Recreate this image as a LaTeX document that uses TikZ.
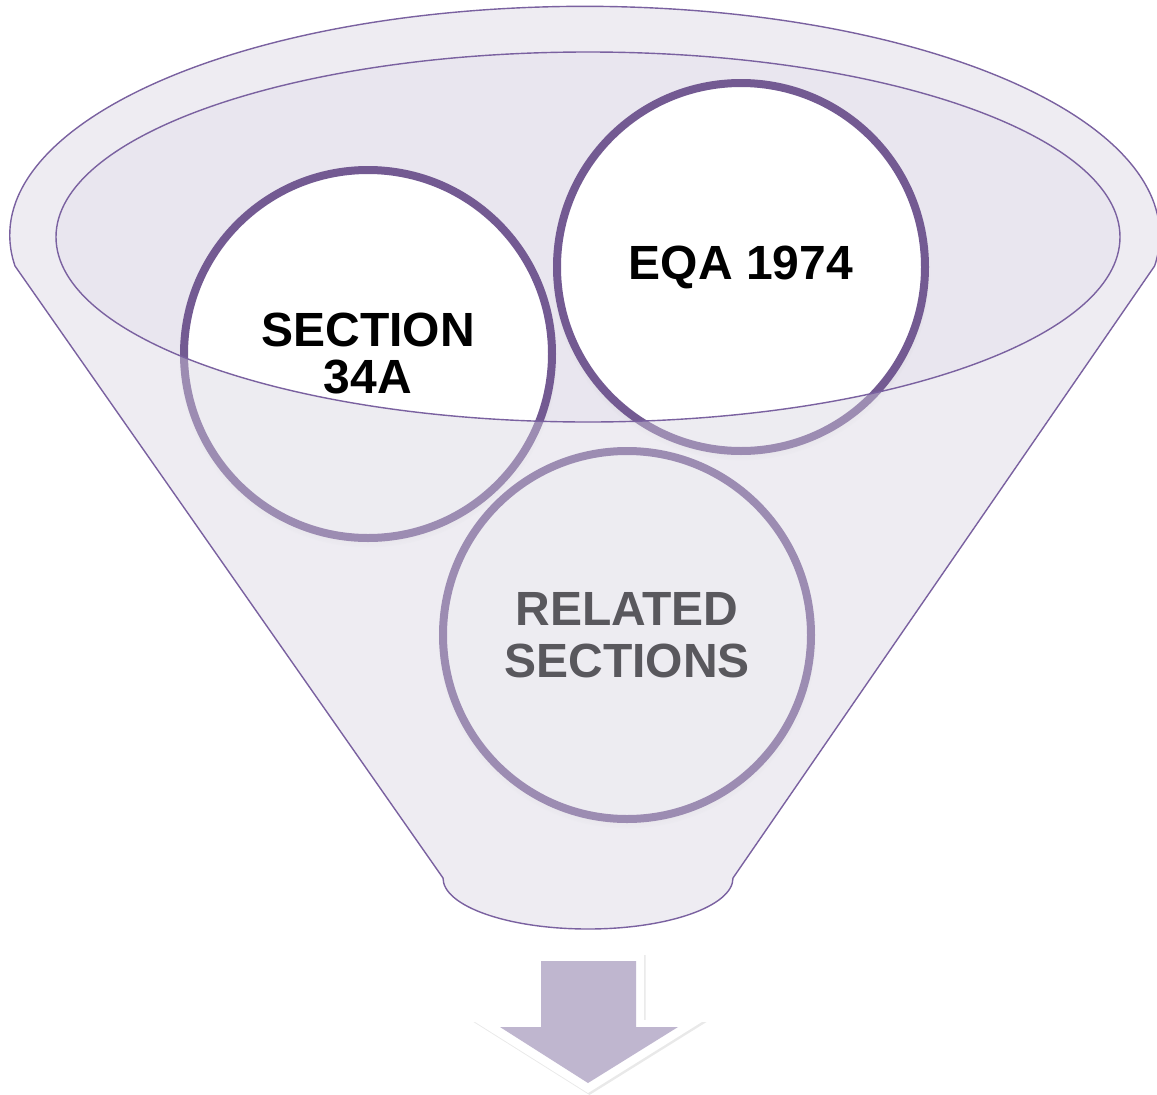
\documentclass[tikz,border=0pt]{standalone}
\usepackage{fontspec}
\setmainfont{Liberation Sans}
\usetikzlibrary{shadows}
\definecolor{funnelline}{RGB}{122,97,160}
\definecolor{ringdark}{RGB}{115,90,146}
\definecolor{rimfill}{RGB}{233,230,239}
\definecolor{glassfill}{RGB}{214,210,224}
\definecolor{arrowfill}{RGB}{191,182,207}

\begin{document}
\begin{tikzpicture}
[every node/.style={inner sep=0pt},
 bubble/.style={circle, minimum size=368pt, fill=white, line width=8pt, draw=ringdark, align=center,
   circular drop shadow={shadow xshift=0pt, shadow yshift=-4pt, shadow scale=1.03, opacity=0.3},
   font=\bfseries\fontsize{48pt}{47pt}\selectfont}]
\useasboundingbox (0pt, 0pt) rectangle (1157pt, -1095pt);
\fill[rimfill] (588pt, -237pt) ellipse [x radius=532pt, y radius=185pt];
\node (sect) [bubble] at (368pt, -354pt) {SECTION\\34A};
\node (eqa) [bubble] at (741pt, -267pt) {EQA 1974};
\node (related) [bubble, font=\bfseries\fontsize{48pt}{52pt}\selectfont] at (627pt, -635pt) {RELATED\\SECTIONS};
% funnel glass over the bubbles
\path[draw=funnelline, line width=1.4pt, fill=glassfill, fill opacity=0.42, even odd rule]
  (15pt, -266pt) arc [start angle=187.7, end angle=-7.7, x radius=575pt, y radius=229pt]
  -- (733pt, -878pt) arc [start angle=0, end angle=-180, x radius=145pt, y radius=51pt] -- cycle
  (588pt, -237pt) ellipse [x radius=532pt, y radius=185pt];
% arrow
\fill[white, drop shadow={shadow xshift=1.5pt, shadow yshift=-2pt, fill=black!35, opacity=0.25}]
  (533pt, -953pt) -- (644pt, -953pt) -- (644pt, -1020pt) -- (705pt, -1020pt) -- (588pt, -1093pt)
  -- (472pt, -1020pt) -- (533pt, -1020pt) -- cycle;
\fill[arrowfill] (541pt, -961pt) -- (636pt, -961pt) -- (636pt, -1027pt) -- (678pt, -1027pt)
  -- (588pt, -1083pt) -- (500pt, -1027pt) -- (541pt, -1027pt) -- cycle;
\end{tikzpicture}
\end{document}
